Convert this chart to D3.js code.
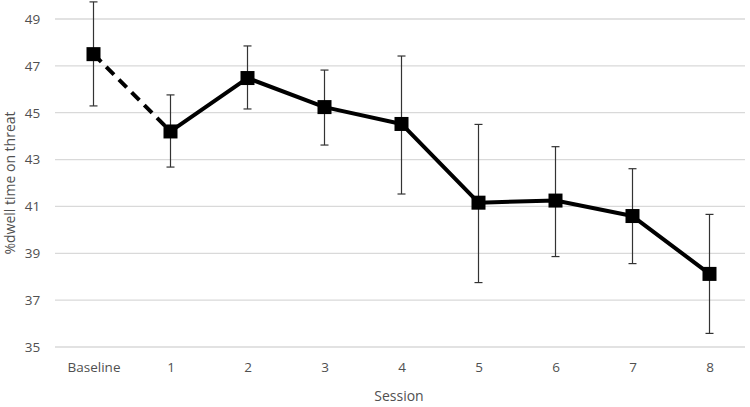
<!DOCTYPE html>
<html><head><meta charset="utf-8">
<script src="https://cdn.jsdelivr.net/npm/d3@7"></script>
<style>body{margin:0;background:#fff}</style>
</head><body><svg id="c" width="750" height="407"></svg>
<script>
const categories = ["Baseline","1","2","3","4","5","6","7","8"];
const means = [47.5, 44.2, 46.48, 45.24, 44.52, 41.16, 41.25, 40.59, 38.12];
const upper = [49.73, 45.76, 47.85, 46.82, 47.42, 44.5, 43.55, 42.61, 40.66];
const lower = [45.29, 42.68, 45.16, 43.62, 41.53, 37.75, 38.86, 38.56, 35.58];
const yTicks = [35,37,39,41,43,45,47,49];

const svg = d3.select("#c");
const x = d3.scalePoint().domain(categories).range([55, 748]).padding(0.5);
const y = d3.scaleLinear().domain([35, 49]).range([347, 19]);
const font = "'Open Sans', sans-serif";
const txt = "#505050";

// gridlines
svg.append("g").selectAll("line").data(yTicks).join("line")
  .attr("x1", 55).attr("x2", 745)
  .attr("y1", d => y(d)).attr("y2", d => y(d))
  .attr("stroke", "#d9d9d9").attr("stroke-width", 1.3);

// y axis labels
const yAxis = d3.axisLeft(y).tickValues(yTicks).tickSize(0).tickPadding(0);
const gy = svg.append("g").attr("transform", "translate(32.5,0)").call(yAxis);
gy.select(".domain").remove();
gy.selectAll("text").attr("font-family", font).attr("font-size", 13.5).attr("fill", txt).attr("text-anchor","middle");

// x axis labels
const xAxis = d3.axisBottom(x).tickSize(0).tickPadding(0);
const gx = svg.append("g").attr("transform", "translate(0,362)").call(xAxis);
gx.select(".domain").remove();
gx.selectAll("text").attr("font-family", font).attr("font-size", 13.5).attr("fill", txt);

// axis titles
svg.append("text").attr("x", 399).attr("y", 401).attr("text-anchor", "middle")
  .attr("font-family", font).attr("font-size", 14).attr("fill", txt).text("Session");
svg.append("text").attr("transform", "translate(15,183) rotate(-90)").attr("text-anchor", "middle")
  .attr("font-family", font).attr("font-size", 14).attr("fill", txt).text("%dwell time on threat");

const data = categories.map((c,i) => ({c, m: means[i], u: upper[i], l: lower[i]}));

// error bars
const eb = svg.append("g").attr("stroke", "#333").attr("stroke-width", 1.2);
eb.selectAll(".v").data(data).join("line")
  .attr("x1", d => x(d.c)).attr("x2", d => x(d.c))
  .attr("y1", d => y(d.u)).attr("y2", d => y(d.l));
eb.selectAll(".t").data(data).join("line")
  .attr("x1", d => x(d.c)-4).attr("x2", d => x(d.c)+4)
  .attr("y1", d => y(d.u)).attr("y2", d => y(d.u));
eb.selectAll(".b").data(data).join("line")
  .attr("x1", d => x(d.c)-4).attr("x2", d => x(d.c)+4)
  .attr("y1", d => y(d.l)).attr("y2", d => y(d.l));

const line = d3.line().x(d => x(d.c)).y(d => y(d.m));
// dashed baseline segment
svg.append("path").datum(data.slice(0,2)).attr("d", line)
  .attr("fill","none").attr("stroke","#000").attr("stroke-width",4).attr("stroke-dasharray","11,7");
svg.append("path").datum(data.slice(1)).attr("d", line)
  .attr("fill","none").attr("stroke","#000").attr("stroke-width",4).attr("stroke-linejoin","round");

// markers
svg.append("g").selectAll("rect").data(data).join("rect")
  .attr("x", d => x(d.c)-7).attr("y", d => y(d.m)-7)
  .attr("width", 14).attr("height", 14).attr("fill", "#000");
</script></body></html>
